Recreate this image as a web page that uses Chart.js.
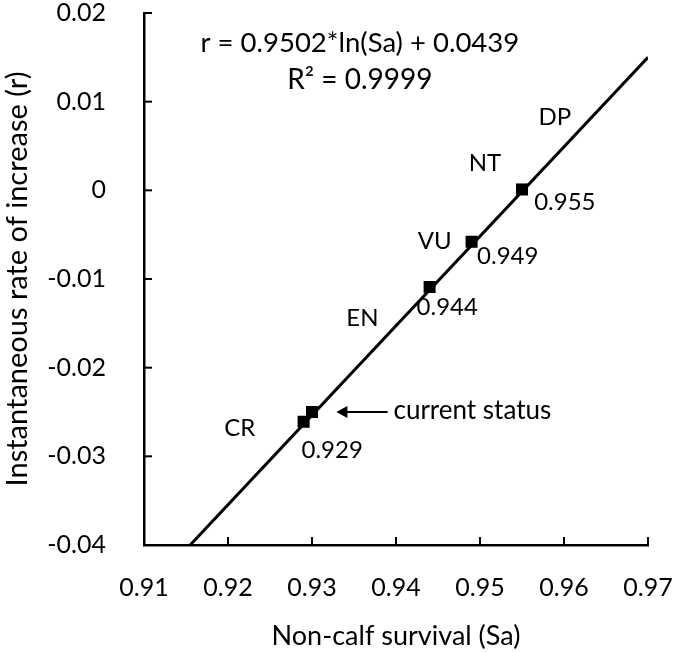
<!DOCTYPE html>
<html>
<head>
<meta charset="utf-8">
<script src="https://cdn.jsdelivr.net/npm/chart.js@4"></script>
<style>
  html, body { margin: 0; padding: 0; background: #fff; }
  #wrap { width: 675px; height: 652px; }
</style>
</head>
<body>
<div id="wrap"><canvas id="survivalChart" width="675" height="652"></canvas></div>
<script>
// points
const survival = [0.929, 0.930, 0.944, 0.949, 0.955];
const rate = [-0.0261, -0.0250, -0.0109, -0.0058, 0.0001];
// fitted line r = 0.9502*ln(Sa) + 0.0439, ends as drawn
const fitX = [0.9155, 0.97];
const fitY = [-0.04, 0.0150];
const xTicks = [0.91, 0.92, 0.93, 0.94, 0.95, 0.96, 0.97];
const yTicks = [0.02, 0.01, 0, -0.01, -0.02, -0.03, -0.04];

// text labels: [text, x, y, align, size]
const labels = [
    ['r = 0.9502*ln(Sa) + 0.0439', 0.9357, 0.0166, 'center', 27.5],
    ['R\u00B2 = 0.9999', 0.9357, 0.0124, 'center', 28],
    ['DP', 0.9589, 0.0082, 'center', 24],
    ['NT', 0.9506, 0.0031, 'center', 24],
    ['VU', 0.9446, -0.0057, 'center', 24],
    ['EN', 0.9360, -0.0144, 'center', 24],
    ['CR', 0.9214, -0.0268, 'center', 24],
    ['0.955', 0.9601, -0.0014, 'center', 24],
    ['0.949', 0.9533, -0.0074, 'center', 24],
    ['0.944', 0.9461, -0.0132, 'center', 24],
    ['0.929', 0.9324, -0.0293, 'center', 24],
    ['current status', 0.9397, -0.0248, 'left', 26]
];

const FONT = 'Lato, "Open Sans", sans-serif';

const annotations = {
    id: 'annotations',
    afterDraw(chart) {
        const ctx = chart.ctx;
        const x = chart.scales.x, y = chart.scales.y;
        const area = chart.chartArea;
        ctx.save();
        // inward tick marks
        ctx.strokeStyle = '#000';
        ctx.lineWidth = 2;
        xTicks.forEach(v => {
            const px = x.getPixelForValue(v);
            ctx.beginPath();
            ctx.moveTo(px, area.bottom);
            ctx.lineTo(px, area.bottom - 8);
            ctx.stroke();
        });
        yTicks.forEach(v => {
            const py = y.getPixelForValue(v);
            ctx.beginPath();
            ctx.moveTo(area.left, py);
            ctx.lineTo(area.left + 8, py);
            ctx.stroke();
        });
        // labels
        ctx.fillStyle = '#000';
        ctx.textBaseline = 'middle';
        labels.forEach(([t, vx, vy, al, sz]) => {
            ctx.font = sz + 'px ' + FONT;
            ctx.textAlign = al;
            ctx.fillText(t, x.getPixelForValue(vx), y.getPixelForValue(vy));
        });
        // arrow for current status
        const ax1 = x.getPixelForValue(0.9390), ax2 = x.getPixelForValue(0.9329);
        const ay = y.getPixelForValue(-0.0250);
        ctx.lineWidth = 2;
        ctx.beginPath();
        ctx.moveTo(ax1, ay);
        ctx.lineTo(ax2 + 6, ay);
        ctx.stroke();
        ctx.beginPath();
        ctx.moveTo(ax2, ay);
        ctx.lineTo(ax2 + 11, ay - 6);
        ctx.lineTo(ax2 + 11, ay + 6);
        ctx.closePath();
        ctx.fill();
        ctx.restore();
    }
};

function noMargins(s) {
    s.paddingTop = 0;
    s.paddingBottom = 0;
    s.paddingLeft = 0;
    s.paddingRight = 0;
}

new Chart(document.getElementById('survivalChart'), {
    type: 'scatter',
    data: {
        datasets: [{
            type: 'line',
            data: fitX.map((v, i) => ({ x: v, y: fitY[i] })),
            borderColor: '#000',
            borderWidth: 3,
            pointRadius: 0,
            fill: false,
            order: 2
        }, {
            data: survival.map((v, i) => ({ x: v, y: rate[i] })),
            pointStyle: 'rect',
            pointRadius: 8.5,
            backgroundColor: '#000',
            borderColor: '#000',
            borderWidth: 0,
            order: 1
        }]
    },
    options: {
        responsive: false,
        animation: false,
        layout: { padding: { left: 0, right: 27, top: 13, bottom: 0 } },
        plugins: { legend: { display: false }, tooltip: { enabled: false } },
        scales: {
            x: {
                type: 'linear',
                min: 0.91,
                max: 0.97,
                afterBuildTicks: s => { s.ticks = xTicks.map(v => ({ value: v })); },
                afterFit: s => { s.height = 107; noMargins(s); },
                border: { color: '#000', width: 2.5 },
                grid: { display: false },
                ticks: {
                    color: '#000',
                    font: { size: 25, family: FONT },
                    padding: 20,
                    callback: v => v.toFixed(2)
                },
                title: {
                    display: true,
                    text: 'Non-calf survival (Sa)',
                    color: '#000',
                    font: { size: 27, family: FONT },
                    padding: { top: 10, bottom: 0 }
                }
            },
            y: {
                type: 'linear',
                min: -0.04,
                max: 0.02,
                afterBuildTicks: s => { s.ticks = yTicks.map(v => ({ value: v })); },
                afterFit: s => { s.width = 144; noMargins(s); },
                border: { color: '#000', width: 2.5 },
                grid: { display: false },
                ticks: {
                    color: '#000',
                    font: { size: 25, family: FONT },
                    padding: 30,
                    callback: v => v === 0 ? '0' : String(Math.round(v * 100) / 100)
                },
                title: {
                    display: true,
                    text: 'Instantaneous rate of increase (r)',
                    color: '#000',
                    font: { size: 29, family: FONT },
                    padding: { top: 0, bottom: 0 }
                }
            }
        }
    },
    plugins: [annotations]
});
</script>
</body>
</html>
